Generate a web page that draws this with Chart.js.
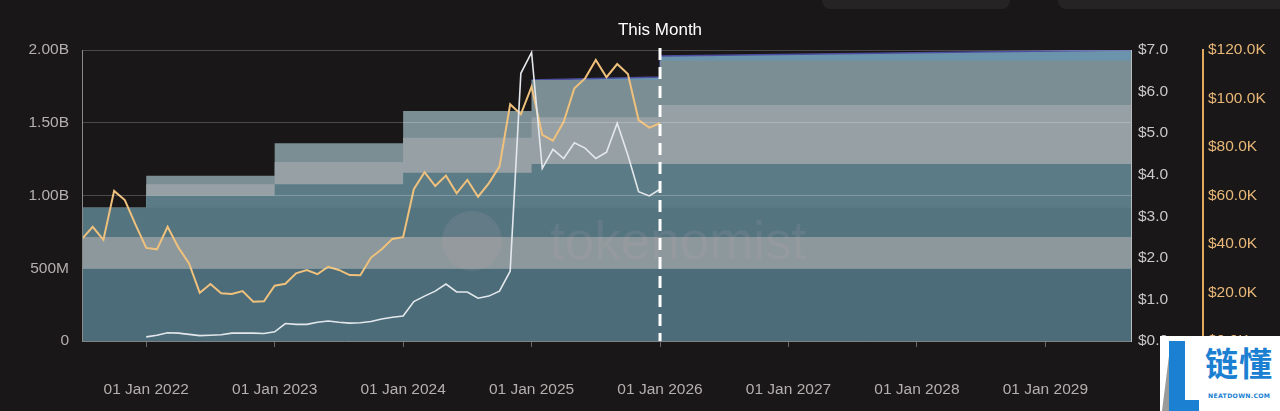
<!DOCTYPE html>
<html><head><meta charset="utf-8">
<script src="https://cdn.jsdelivr.net/npm/chart.js@4.4.1/dist/chart.umd.min.js"></script>
<style>
html,body{margin:0;padding:0;background:#1a1718;}
#wrap{position:relative;width:1280px;height:411px;overflow:hidden;background:#1a1718;font-family:"Liberation Sans",Arial,sans-serif;}
#c{position:absolute;left:0;top:0;}
.tab{position:absolute;top:-12px;height:21px;background:#262324;border-radius:8px;}
#logo{position:absolute;left:1160px;top:336px;width:120px;height:75px;background:#ffffff;}
#logo .tri{position:absolute;left:2px;top:4px;width:0;height:0;border-left:9px solid transparent;border-bottom:71px solid #9a9a9a;}
#logo .bar{position:absolute;left:9px;top:5px;width:16px;height:70px;background:#1b7fd2;}
#logo .foot{position:absolute;left:9px;top:64px;width:30px;height:11px;background:#1b7fd2;}
#logo .cn{position:absolute;left:45px;top:6px;font-family:"Noto Sans CJK SC",sans-serif;font-weight:700;font-size:33px;line-height:40px;color:#1b7fd2;letter-spacing:1px;}
#logo .en{position:absolute;left:48px;top:55px;font-family:"DejaVu Sans",sans-serif;font-weight:700;font-size:6.2px;line-height:9px;color:#1b7fd2;letter-spacing:0.3px;white-space:nowrap;}
</style></head><body>
<div id="wrap">
<canvas id="c" width="1280" height="411"></canvas>
<div class="tab" style="left:822px;width:188px;"></div>
<div class="tab" style="left:1058px;width:240px;"></div>
<div id="logo"><div class="tri"></div><div class="bar"></div><div class="foot"></div><div class="cn">链懂</div><div class="en">NEATDOWN.COM</div></div>
</div>
<script>
// x unit: months since 01 Jul 2021
const axisStartMonth = 0;
const axisEndMonth = 98;
const thisMonth = 54; // 01 Jan 2026
const yearTickMonths = [6, 18, 30, 42, 54, 66, 78, 90];
const xTickLabels = ['01 Jan 2022','01 Jan 2023','01 Jan 2024','01 Jan 2025','01 Jan 2026','01 Jan 2027','01 Jan 2028','01 Jan 2029'];

// unlock schedule segments (start month of each step)
const segmentStarts = [0, 6, 18, 30, 42, 54];
// stacked supply layers, in billions of tokens, one value per segment
const layerCore      = [0.5, 0.5, 0.5, 0.5, 0.5, 0.5];
const layerReserve   = [0.215, 0.215, 0.215, 0.215, 0.215, 0.215];
const layerEarly     = [0.2, 0.2, 0.2, 0.2, 0.2, 0.2];
const layerTeam      = [0, 0.085, 0.162, 0.242, 0.301, 0.301];
const layerInvestors = [0, 0.077, 0.153, 0.240, 0.321, 0.406];
const layerEcosystem = [0, 0.059, 0.129, 0.184, 0.257, 0.304];
const layerEmissionStart = [null, null, null, null, 0.0, 0.033];
const layerEmissionEnd   = [null, null, null, null, 0.02, 0.074];

// monthly prices, first value = Jul 2021
const btcPriceK = [42.1,47.1,41.7,61.9,58.1,48.0,38.4,37.8,47.1,38.6,32.0,19.9,23.5,19.7,19.4,20.6,16.2,16.4,
  22.8,23.6,27.9,29.3,27.6,30.6,29.3,27.2,27.1,34.4,37.8,42.1,42.8,62.6,69.6,63.9,68.2,60.9,66.4,59.5,65.0,71.9,
  97.6,93.5,104.9,85.0,82.6,90.4,104.2,108.3,115.9,108.8,114.2,110.1,91.1,88.0,89.8];
// token price, first value = Jan 2022
const tokenPriceStartMonth = 6;
const tokenPrice = [0.10,0.14,0.20,0.19,0.16,0.13,0.14,0.15,0.19,0.19,0.19,0.18,
  0.22,0.42,0.40,0.40,0.45,0.48,0.45,0.43,0.44,0.47,0.53,0.57,0.60,0.95,1.08,1.20,1.37,1.18,1.18,1.03,1.08,1.20,1.68,
  6.44,6.94,4.15,4.61,4.39,4.77,4.64,4.39,4.54,5.24,4.47,3.59,3.49,3.65];

function stepPoints(startVals, endVals) {
  const pts = [];
  segmentStarts.forEach((s, i) => {
    const last = i === segmentStarts.length - 1;
    const e = last ? axisEndMonth : segmentStarts[i + 1] - 0.001;
    pts.push({x: s, y: startVals[i]});
    pts.push({x: e, y: (endVals || startVals)[i]});
  });
  return pts;
}
// each layer fills down to the origin; lower layers are painted over upper ones (no seams)
function layer(data, color, extra) {
  return Object.assign({data, yAxisID: 'y', backgroundColor: color, borderWidth: 0, borderColor: color,
    fill: 'origin', pointRadius: 0, tension: 0}, extra || {});
}

const datasets = [
  {data: tokenPrice.map((v, i) => ({x: tokenPriceStartMonth + i, y: v})), yAxisID: 'y1', borderColor: '#e4e8ec',
    borderWidth: 1.6, pointRadius: 0, fill: false, tension: 0},
  {data: btcPriceK.map((v, i) => ({x: axisStartMonth + i, y: v * 1000})), yAxisID: 'y2', borderColor: '#efc17c',
    borderWidth: 2, pointRadius: 0, fill: false, tension: 0},
  layer(stepPoints(layerCore), '#4b6c78'),
  layer(stepPoints(layerReserve), '#8c989c'),
  layer(stepPoints(layerEarly), '#547580'),
  layer(stepPoints(layerTeam), '#5b7c86'),
  layer(stepPoints(layerInvestors), '#97a1a5'),
  layer(stepPoints(layerEcosystem), '#7b8e94'),
  layer(stepPoints(layerEmissionStart, layerEmissionEnd), '#6b93ab', {borderWidth: 1.5, borderColor: '#4d4f9e', spanGaps: false})
];

const font = {family: '"Liberation Sans", Arial, sans-serif', size: 15.5};

const overlay = {
  id: 'overlay',
  afterDatasetsDraw(chart) {
    const {ctx, chartArea} = chart;
    ctx.save();
    ctx.beginPath();
    ctx.rect(chartArea.left, chartArea.top, chartArea.right - chartArea.left, chartArea.bottom - chartArea.top);
    ctx.clip();
    ctx.fillStyle = 'rgba(225,170,190,0.11)';
    ctx.beginPath();
    ctx.arc(472, 241, 30, 0, Math.PI * 2);
    ctx.fill();
    ctx.font = '53px "Liberation Sans", Arial, sans-serif';
    ctx.textBaseline = 'alphabetic';
    ctx.textAlign = 'left';
    ctx.fillText('tokenomist', 550, 259);
    ctx.restore();
  },
  afterDraw(chart) {
    const {ctx, chartArea} = chart;
    const x = chart.scales.x.getPixelForValue(thisMonth);
    ctx.save();
    ctx.strokeStyle = '#ffffff';
    ctx.lineWidth = 3;
    ctx.setLineDash([12, 7]);
    ctx.beginPath();
    ctx.moveTo(x, chartArea.top - 2);
    ctx.lineTo(x, chartArea.bottom);
    ctx.stroke();
    ctx.setLineDash([]);
    ctx.fillStyle = '#ffffff';
    ctx.font = '17px "Liberation Sans", Arial, sans-serif';
    ctx.textAlign = 'center';
    ctx.textBaseline = 'middle';
    ctx.fillText('This Month', x, 30);
    ctx.restore();
  }
};

new Chart(document.getElementById('c'), {
  type: 'line',
  data: {datasets},
  plugins: [overlay],
  options: {
    responsive: false, animation: false,
    layout: {padding: {top: 50, left: 0, right: 0, bottom: 0}},
    plugins: {legend: {display: false}, tooltip: {enabled: false}},
    scales: {
      x: {
        type: 'linear', min: axisStartMonth, max: axisEndMonth,
        grid: {display: true, drawOnChartArea: false, drawTicks: true, tickLength: 6, color: '#6a6a6a'},
        border: {color: '#5d6163', z: 1},
        ticks: {color: '#b4b0b0', font, padding: 33, autoSkip: false, maxRotation: 0,
          callback: (v, i) => xTickLabels[i]},
        afterBuildTicks: s => { s.ticks = yearTickMonths.map(v => ({value: v})); },
        afterFit: s => { s.height = 70; }
      },
      y: {
        position: 'left', stacked: true, min: 0, max: 2,
        grid: {color: 'rgba(255,255,255,0.22)', drawTicks: false, z: 1},
        border: {color: '#8a8a8a', z: 1},
        ticks: {stepSize: 0.5, color: '#b4b0b0', font, padding: 13,
          callback: v => v === 0 ? '0' : (v < 1 ? Math.round(v * 1000) + 'M' : v.toFixed(2) + 'B')},
        afterFit: s => { s.width = 82; }
      },
      y1: {
        position: 'right', min: 0, max: 7,
        grid: {display: false, drawTicks: false},
        border: {color: '#b8bcbe', z: 1},
        ticks: {stepSize: 1, color: '#c9c9c9', font, padding: 7, callback: v => '$' + v.toFixed(1)},
        afterFit: s => { s.width = 72; }
      },
      y2: {
        position: 'right', min: 0, max: 120000,
        grid: {display: false, drawTicks: false},
        border: {color: '#e2a95f', width: 2},
        ticks: {stepSize: 20000, color: '#e9b878', font, padding: 5,
          callback: v => '$' + (v / 1000).toFixed(1) + 'K'},
        afterFit: s => { s.width = 77; }
      }
    }
  }
});
</script>
</body></html>
